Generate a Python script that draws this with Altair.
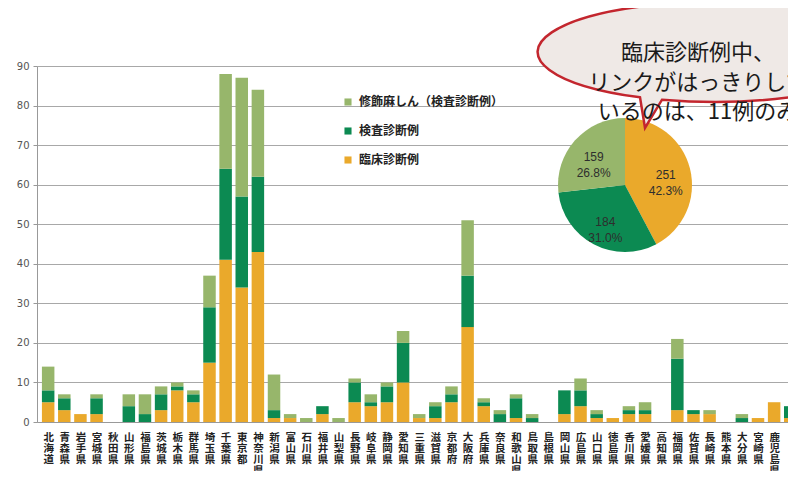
import json
import altair as alt
import pandas as pd

prefectures = ["北海道", "青森県", "岩手県", "宮城県", "秋田県", "山形県", "福島県", "茨城県", "栃木県", "群馬県",
               "埼玉県", "千葉県", "東京都", "神奈川県", "新潟県", "富山県", "石川県", "福井県", "山梨県", "長野県",
               "岐阜県", "静岡県", "愛知県", "三重県", "滋賀県", "京都府", "大阪府", "兵庫県", "奈良県", "和歌山県",
               "鳥取県", "島根県", "岡山県", "広島県", "山口県", "徳島県", "香川県", "愛媛県", "高知県", "福岡県",
               "佐賀県", "長崎県", "熊本県", "大分県", "宮崎県", "鹿児島県", "沖縄県"]
# 臨床診断例
clinical = [5, 3, 2, 2, 0, 0, 0, 3, 8, 5,
            15, 41, 34, 43, 1, 1, 0, 2, 0, 5,
            4, 5, 10, 1, 1, 5, 24, 4, 0, 1,
            0, 0, 2, 4, 1, 1, 2, 2, 0, 3,
            2, 2, 0, 0, 1, 5, 1]
# 検査診断例
lab = [3, 3, 0, 4, 0, 4, 2, 4, 1, 2,
       14, 23, 23, 19, 2, 0, 0, 2, 0, 5,
       1, 4, 10, 0, 3, 2, 13, 1, 2, 5,
       1, 0, 6, 4, 1, 0, 1, 1, 0, 13,
       1, 0, 0, 1, 0, 0, 3]
# 修飾麻しん（検査診断例）
modified = [6, 1, 0, 1, 0, 3, 5, 2, 1, 1,
            8, 24, 30, 22, 9, 1, 1, 0, 1, 1,
            2, 1, 3, 1, 1, 2, 14, 1, 1, 1,
            1, 0, 0, 3, 1, 0, 1, 2, 0, 5,
            0, 1, 0, 1, 0, 0, 0]

T_MOD = "修飾麻しん（検査診断例）"
T_LAB = "検査診断例"
T_CLIN = "臨床診断例"
legend_types = [T_MOD, T_LAB, T_CLIN]
legend_colors = ["#97b66b", "#0c8a52", "#eaa92b"]
y_ticks = [0, 10, 20, 30, 40, 50, 60, 70, 80, 90]
callout_text = "臨床診断例中、\nリンクがはっきりして\nいるのは、11例のみ"

rows = []
for i, p in enumerate(prefectures):
    for t, vals, o in [(T_CLIN, clinical, 0), (T_LAB, lab, 1), (T_MOD, modified, 2)]:
        rows.append({"idx": i, "pref": p, "type": t, "value": vals[i], "ord": o})
bar_df = pd.DataFrame(rows)

pie_values = [sum(clinical), sum(lab), sum(modified)]
total = sum(pie_values)
pie_df = pd.DataFrame({
    "type": [T_CLIN, T_LAB, T_MOD],
    "value": pie_values,
    "ord": [0, 1, 2],
    "label": [f"{v}\n{v / total * 100:.1f}%" for v in pie_values],
})

color_scale = alt.Scale(domain=legend_types, range=legend_colors)
JP = "Noto Sans CJK JP"
label_expr = "split(" + json.dumps(prefectures, ensure_ascii=False) + "[datum.value], '')"

bars = alt.Chart(bar_df).mark_bar(width=12.5).encode(
    x=alt.X("idx:Q",
            scale=alt.Scale(domain=[-0.382, 45.55], nice=False, zero=False),
            axis=alt.Axis(title=None, values=list(range(len(prefectures))), labelAngle=0,
                          labelExpr=label_expr, labelOverlap=False, labelFlush=False,
                          labelLineHeight=11, labelFont=JP, labelFontSize=10.5,
                          labelFontWeight="bold", labelColor="#222", labelBaseline="top",
                          labelAlign="center", labelPadding=10, ticks=False,
                          domainColor="#999", grid=False)),
    y=alt.Y("value:Q", stack="zero", scale=alt.Scale(domain=[0, 90], nice=False),
            axis=alt.Axis(title=None, values=y_ticks, grid=True, gridColor="#a8a8a8",
                          gridWidth=1, domainColor="#999", tickColor="#999", tickSize=4,
                          labelColor="#555", labelFont="DejaVu Sans", labelFontSize=10,
                          labelPadding=4)),
    color=alt.Color("type:N", scale=color_scale,
                    legend=alt.Legend(orient="none", legendX=305, legendY=30, title=None,
                                      symbolType="square", symbolSize=50, symbolStrokeWidth=0,
                                      labelFont=JP, labelFontSize=12, labelFontWeight="bold",
                                      labelColor="#222", rowPadding=17, labelOffset=5,
                                      padding=0, direction="vertical", labelLimit=300)),
    order=alt.Order("ord:Q", sort="ascending"),
)

pie = alt.Chart(pie_df).mark_arc(radius=67).encode(
    theta=alt.Theta("value:Q", stack=True),
    color=alt.Color("type:N", scale=color_scale, legend=None),
    order=alt.Order("ord:Q", sort="ascending"),
    x=alt.value(588),
    y=alt.value(119),
)

pie_text = alt.Chart(pie_df).mark_text(radius=42, fontSize=12, lineBreak="\n", lineHeight=16,
                                      font="Liberation Sans", color="#2e2e2e").encode(
    theta=alt.Theta("value:Q", stack=True),
    order=alt.Order("ord:Q", sort="ascending"),
    text="label:N",
    x=alt.value(588),
    y=alt.value(119),
)

bubble_path = "M -75 45.3 L -70 76 L -53 47.7 A 177 50 0 1 0 -75 45.3 Z"
callout = alt.Chart(pd.DataFrame({"a": [0]})).mark_point(
    shape=bubble_path, size=4, filled=True, fill="#efe9e6", stroke="#c3262e",
    strokeWidth=2.5, opacity=1).encode(x=alt.value(678), y=alt.value(-14))

callout_label = alt.Chart(pd.DataFrame({"a": [0]})).mark_text(
    font=JP, fontSize=22, lineBreak="\n", lineHeight=29.5, color="#1a1a1a",
    align="center", baseline="middle").encode(
    x=alt.value(661), y=alt.value(-13), text=alt.value(callout_text))

chart = alt.layer(bars, pie, pie_text, callout, callout_label).properties(
    width=751, height=356,
    autosize=alt.AutoSizeParams(type="none"),
    padding={"left": 29, "top": 58, "right": 0, "bottom": 49},
    background="white",
).configure_view(stroke=None)

chart.save("out.html", embed_options={"renderer": "svg", "actions": False})
